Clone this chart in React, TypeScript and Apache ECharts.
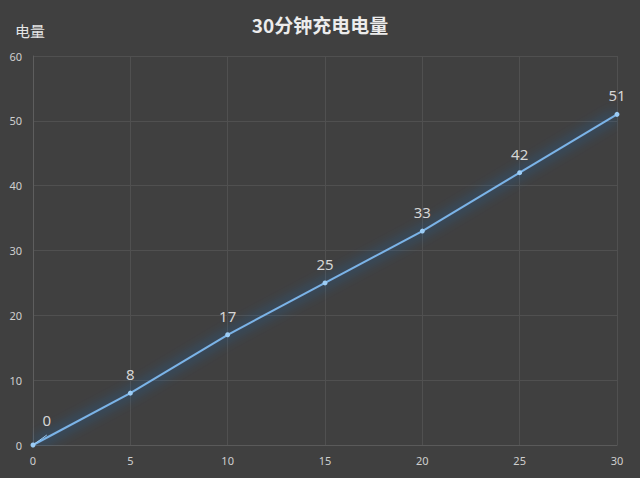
import * as echarts from 'echarts';
import { useEffect, useRef } from 'react';

const minutes = [0, 5, 10, 15, 20, 25, 30];
const charge = [0, 8, 17, 25, 33, 42, 51];

export default function App() {
  const chartRef = useRef<HTMLDivElement>(null);

  useEffect(() => {
    if (!chartRef.current) return;
    const chart = echarts.init(chartRef.current, undefined, { renderer: 'svg' });

    chart.setOption({
      animation: false,
      backgroundColor: '#404040',
      title: {
        text: '30分钟充电电量',
        left: 'center',
        top: 10,
        textStyle: { color: '#ececec', fontSize: 19, fontWeight: 'bold', fontFamily: 'Noto Sans CJK SC' },
      },
      grid: { left: 33, right: 23, top: 56, bottom: 33 },
      xAxis: {
        type: 'value',
        min: 0,
        max: 30,
        interval: 5,
        axisLine: { show: true, lineStyle: { color: '#5a5a5a' } },
        axisTick: { show: false },
        axisLabel: { color: '#cfcfcf', fontSize: 11, margin: 10, fontFamily: 'Noto Sans' },
        splitLine: { lineStyle: { color: '#505050' } },
      },
      yAxis: {
        type: 'value',
        name: '电量',
        nameLocation: 'end',
        nameGap: 18,
        nameTextStyle: { color: '#e4e4e4', fontSize: 15, align: 'center', padding: [0, 0, 0, -6], fontFamily: 'Noto Sans CJK SC' },
        min: 0,
        max: 60,
        interval: 10,
        axisLine: { show: true, lineStyle: { color: '#5e5e5e' } },
        axisTick: { show: false },
        axisLabel: { color: '#cfcfcf', fontSize: 11, margin: 11, fontFamily: 'Noto Sans' },
        splitLine: { lineStyle: { color: '#505050' } },
      },
      series: [
        {
          type: 'line',
          data: minutes.map((m, i) =>
            i === 0
              ? { value: [m, charge[i]], label: { position: 'right', offset: [-2, -25] }, labelLine: { show: true } }
              : [m, charge[i]]
          ),
          symbol: 'circle',
          symbolSize: 5,
          itemStyle: { color: '#9ccdf6' },
          lineStyle: {
            color: '#7ab4e8',
            width: 2,
            shadowColor: 'rgba(30,130,255,1)',
            shadowBlur: 14,
          },
          label: {
            show: true,
            position: 'top',
            distance: 9,
            color: '#d6d6d6',
            fontSize: 15,
            fontFamily: 'Noto Sans',
          },
        },
      ],
    });

    return () => chart.dispose();
  }, []);

  return <div ref={chartRef} style={{ position: 'fixed', left: 0, top: 0, width: 640, height: 478 }} />;
}
